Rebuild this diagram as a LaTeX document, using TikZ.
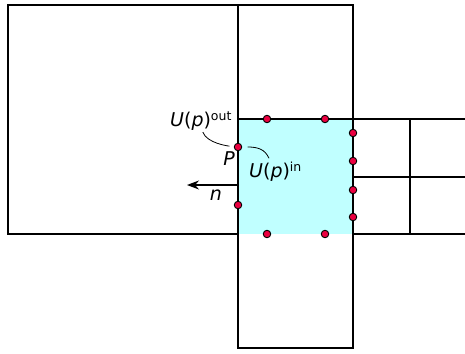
\documentclass[tikz,border=0pt]{standalone}
\usepackage{fontspec}
\setmainfont{DejaVu Sans}
\usetikzlibrary{arrows.meta}

\definecolor{cellcyan}{RGB}{192,255,255}
\definecolor{dotred}{RGB}{234,0,64}
\newcommand{\supfont}[1]{\raisebox{6pt}{\fontsize{12.5}{13}\selectfont #1}}

\begin{document}
\begin{tikzpicture}[x=1pt, y=-1pt,
    cell/.style={draw, line width=1.1pt},
    pt/.style={circle, draw, fill=dotred, inner sep=0pt, minimum size=7.5pt, line width=0.9pt},
    lbl/.style={font=\fontsize{19}{22}\selectfont, inner sep=0pt},
    lead/.style={line width=0.8pt},
    arr/.style={-{Stealth[length=12pt, width=9pt]}, line width=1.1pt}
  ]
    \useasboundingbox (0,0) rectangle (465,353);
    % cells
    \fill[cellcyan] (238,119) rectangle (353,234);
    \draw[cell] (8,5) rectangle (238,234);
    \draw[cell] (238,5) rectangle (353,348);
    \draw[cell] (238,119) -- (465,119);
    \draw[cell] (353,177) -- (465,177);
    \draw[cell] (353,234) -- (465,234);
    \draw[cell] (410,119) -- (410,234);
    % points on the faces
    \node[pt] (pl1) at (238,147) {};
    \node[pt] (pl2) at (238,205) {};
    \node[pt] (pt1) at (267,119) {};
    \node[pt] (pt2) at (325,119) {};
    \node[pt] (pb1) at (267,234) {};
    \node[pt] (pb2) at (325,234) {};
    \node[pt] (pr1) at (353,133) {};
    \node[pt] (pr2) at (353,161) {};
    \node[pt] (pr3) at (353,190) {};
    \node[pt] (pr4) at (353,217) {};
    % labels
    \node[lbl, anchor=base west] (uout) at (170,126) {\textit{U}(\textit{p})\supfont{out}};
    \node[lbl, anchor=base west] (uin) at (249,177) {\textit{U}(\textit{p})\supfont{in}};
    \node[lbl, anchor=base] (plbl) at (229,165) {\textit{P}};
    \coordinate (nstart) at (238,185);
    \coordinate (ntip) at (187,185);
    \draw[arr] (nstart) -- (ntip);
    \node[lbl, anchor=base] (nlbl) at (216,200) {\textit{n}};
    \draw[lead, shorten >=4.5pt] ([shift={(2,2)}]uout.south) .. controls +(4,11) and +(-10,-1) .. (pl1);
    \draw[lead, shorten <=5.5pt] (pl1) .. controls +(20,0) and +(-4,-9) .. ([shift={(20,-3)}]uin.north west);
\end{tikzpicture}
\end{document}
